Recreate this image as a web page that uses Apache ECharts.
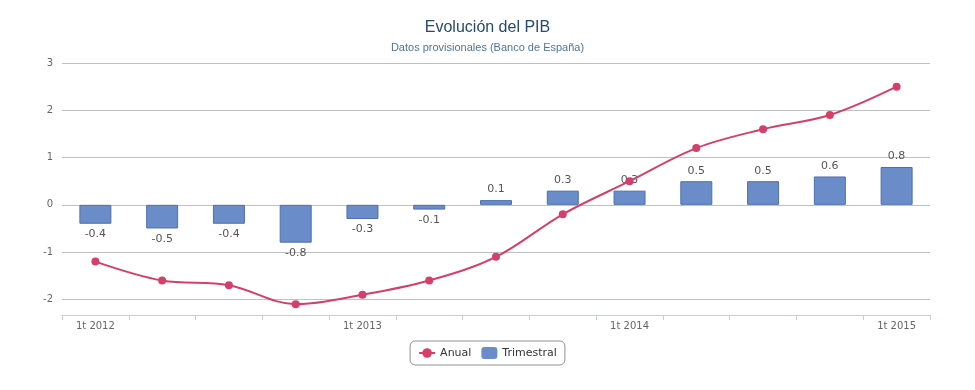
<!DOCTYPE html>
<html>
<head>
<meta charset="utf-8">
<script src="https://cdn.jsdelivr.net/npm/echarts@6/dist/echarts.min.js"></script>
<style>
html,body{margin:0;padding:0;background:#fff;}
#chart{width:975px;height:390px;}
</style>
</head>
<body>
<div id="chart"></div>
<script>
const categories = ['1t 2012','2t 2012','3t 2012','4t 2012','1t 2013','2t 2013','3t 2013','4t 2013','1t 2014','2t 2014','3t 2014','4t 2014','1t 2015'];
const anual = [-1.2, -1.6, -1.7, -2.1, -1.9, -1.6, -1.1, -0.2, 0.5, 1.2, 1.6, 1.9, 2.5];
const trimestral = [-0.4, -0.5, -0.4, -0.8, -0.3, -0.1, 0.1, 0.3, 0.3, 0.5, 0.5, 0.6, 0.8];
const yTicks = [-2, -1, 0, 1, 2, 3];

const chart = echarts.init(document.getElementById('chart'));
chart.setOption({
  animation: false,
  backgroundColor: '#fff',
  title: {
    text: 'Evolución del PIB',
    subtext: 'Datos provisionales (Banco de España)',
    left: 'center',
    top: 15,
    itemGap: 6,
    textStyle: {fontFamily: 'Liberation Sans', fontSize: 16, fontWeight: 'normal', color: '#274b6d'},
    subtextStyle: {fontFamily: 'Liberation Sans', fontSize: 11, color: '#4d759e'}
  },
  legend: {
    bottom: 25,
    left: 'center',
    borderColor: '#909090',
    borderWidth: 1,
    borderRadius: 5,
    padding: [6, 8, 6, 8],
    itemGap: 10,
    itemWidth: 16,
    itemHeight: 12,
    textStyle: {fontFamily: 'DejaVu Sans', fontSize: 11, color: '#333'},
    data: [{name: 'Anual'}, {name: 'Trimestral', itemStyle: {borderWidth: 0}}]
  },
  grid: {left: 62, right: 45, top: 63, bottom: 75, containLabel: false},
  xAxis: {
    type: 'category',
    data: categories,
    boundaryGap: true,
    axisLine: {onZero: false, lineStyle: {color: '#C0D0E0'}},
    axisTick: {show: true, interval: 0, length: 5, lineStyle: {color: '#C0D0E0'}},
    axisLabel: {interval: 3, color: '#666', fontFamily: 'DejaVu Sans', fontSize: 10, margin: 6},
    splitLine: {show: false}
  },
  yAxis: {
    type: 'value',
    min: -2.33,
    max: 3,
    axisLine: {show: false},
    axisTick: {show: false, customValues: yTicks},
    axisLabel: {customValues: yTicks, color: '#666', fontFamily: 'DejaVu Sans', fontSize: 10, margin: 9},
    splitLine: {show: true, lineStyle: {color: '#C0C0C0', width: 1}}
  },
  series: [
    {
      name: 'Anual',
      type: 'line',
      data: anual,
      smooth: 0.35,
      symbol: 'circle',
      symbolSize: 8,
      z: 3,
      itemStyle: {color: '#d4406a'},
      lineStyle: {color: '#d4406a', width: 2}
    },
    {
      name: 'Trimestral',
      type: 'bar',
      data: trimestral.map(v => ({value: v, label: {position: v < 0 ? 'bottom' : 'top'}})),
      barWidth: 32,
      z: 2,
      itemStyle: {color: '#6a8cc8', borderColor: '#4e6fae', borderWidth: 1},
      label: {show: true, distance: 5, color: '#555', fontFamily: 'DejaVu Sans', fontSize: 11, formatter: p => String(p.value)}
    }
  ]
});
</script>
</body>
</html>
